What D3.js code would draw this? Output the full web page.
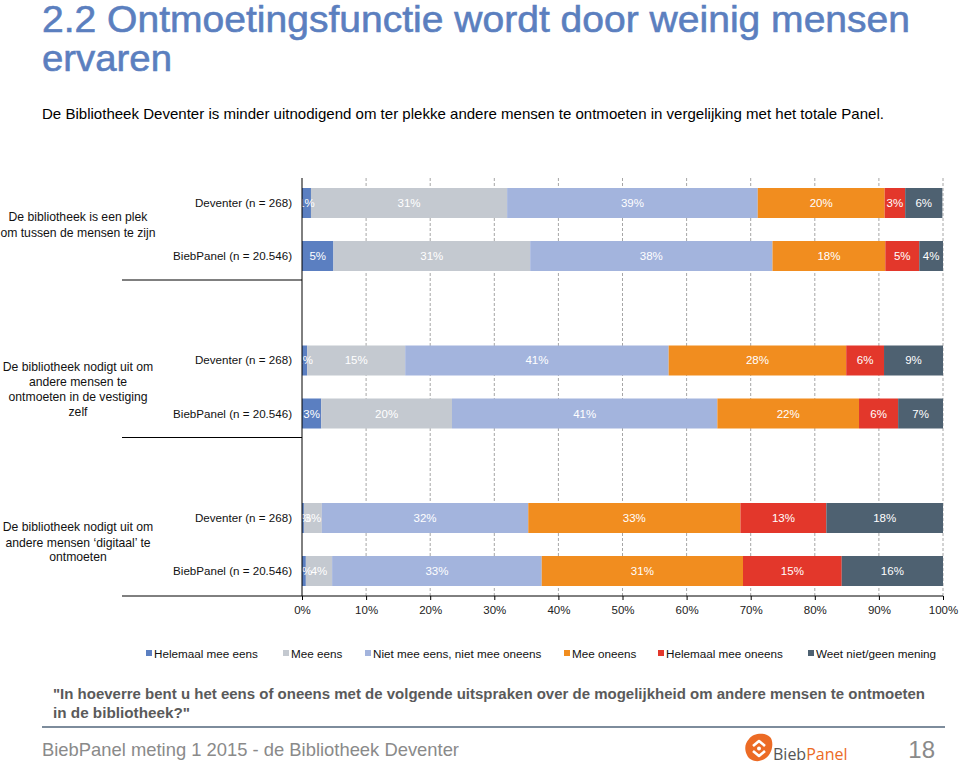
<!DOCTYPE html>
<html><head><meta charset="utf-8">
<script src="https://cdn.jsdelivr.net/npm/d3@7"></script>
<style>
html,body{margin:0;padding:0;background:#fff;}
svg{display:block;font-family:"Liberation Sans",Arial,sans-serif;}
</style></head>
<body>
<svg id="chart" width="960" height="764"></svg>
<script>
// ---------- DATA ----------
const categories = ["cat1", "cat2", "cat3"];
const categoryLines = [
  ["De bibliotheek is een plek", "om tussen de mensen te zijn"],
  ["De bibliotheek nodigt uit om", "andere mensen te", "ontmoeten in de vestiging", "zelf"],
  ["De bibliotheek nodigt uit om", "andere mensen \u2018digitaal\u2019 te", "ontmoeten"]
];
const rows = ["Deventer (n = 268)", "BiebPanel (n = 20.546)"];
const seriesNames = ["Helemaal mee eens", "Mee eens", "Niet mee eens, niet mee oneens", "Mee oneens", "Helemaal mee oneens", "Weet niet/geen mening"];
const seriesColors = ["#5b7fc1", "#c4c9d0", "#a3b4dd", "#f18d1f", "#e3372b", "#4e6171"];
// values in order: cat1 Deventer, cat1 BiebPanel, cat2 Deventer, cat2 BiebPanel, cat3 Deventer, cat3 BiebPanel
const helemaalMeeEens   = [1.4, 4.9, 0.8, 3.0, 0.3, 0.6];
const meeEens           = [30.6, 30.7, 15.3, 20.4, 2.8, 4.1];
const nietMeeEens       = [39.1, 37.8, 41.1, 41.4, 32.2, 32.7];
const meeOneens         = [19.8, 17.6, 27.7, 22.1, 33.1, 31.4];
const helemaalMeeOneens = [3.2, 5.3, 5.9, 6.1, 13.4, 15.4];
const weetNiet          = [5.8, 3.7, 9.2, 7.0, 18.2, 15.8];
const xTicks = [0, 10, 20, 30, 40, 50, 60, 70, 80, 90, 100];

const seriesValues = [helemaalMeeEens, meeEens, nietMeeEens, meeOneens, helemaalMeeOneens, weetNiet];

// ---------- CHART ----------
const svg = d3.select("#chart");

// Title
svg.append("text").attr("x", 42).attr("y", 32).attr("font-size", 37).attr("fill", "#5b7fbf")
  .attr("stroke", "#5b7fbf").attr("stroke-width", 0.6)
  .attr("textLength", 868).attr("lengthAdjust", "spacingAndGlyphs")
  .text("2.2 Ontmoetingsfunctie wordt door weinig mensen");
svg.append("text").attr("x", 42).attr("y", 71).attr("font-size", 37).attr("fill", "#5b7fbf")
  .attr("stroke", "#5b7fbf").attr("stroke-width", 0.6)
  .attr("textLength", 130).attr("lengthAdjust", "spacingAndGlyphs")
  .text("ervaren");
svg.append("text").attr("x", 42).attr("y", 119).attr("font-size", 14.5).attr("fill", "#000")
  .attr("textLength", 842).attr("lengthAdjust", "spacingAndGlyphs")
  .text("De Bibliotheek Deventer is minder uitnodigend om ter plekke andere mensen te ontmoeten  in vergelijking met het totale Panel.");

// Scales
const x = d3.scaleLinear().domain([0, 100]).range([302, 943]);
const yGroup = d3.scaleBand().domain(categories).range([122.5, 595]).padding(0);
const yRow = d3.scaleBand().domain(rows).range([65.5, 148.5]).paddingInner(0.434).paddingOuter(0);

const plotTop = 178, plotBottom = 596;

// Grid lines
svg.append("g").selectAll("line").data(xTicks.slice(1)).join("line")
  .attr("x1", d => x(d)).attr("x2", d => x(d))
  .attr("y1", plotTop).attr("y2", plotBottom)
  .attr("stroke", "#a6a6a6").attr("stroke-width", 1).attr("stroke-dasharray", "3,2");

// Build stacked records
const records = [];
categories.forEach((c, ci) => {
  rows.forEach((r, ri) => {
    const idx = ci * 2 + ri;
    let acc = 0;
    seriesValues.forEach((arr, si) => {
      const v = arr[idx];
      records.push({cat: c, row: r, s: si, x0: acc, x1: acc + v, v});
      acc += v;
    });
  });
});

const bars = svg.append("g");
bars.selectAll("rect").data(records).join("rect")
  .attr("x", d => x(d.x0))
  .attr("width", d => x(d.x1) - x(d.x0))
  .attr("y", d => yGroup(d.cat) + yRow(d.row))
  .attr("height", yRow.bandwidth())
  .attr("fill", d => seriesColors[d.s]);

bars.selectAll("text").data(records).join("text")
  .attr("x", d => (x(d.x0) + x(d.x1)) / 2)
  .attr("y", d => yGroup(d.cat) + yRow(d.row) + yRow.bandwidth() / 2 + 4)
  .attr("text-anchor", "middle").attr("font-size", 11.5).attr("fill", "#fff")
  .text(d => Math.round(d.v) + "%");

// Vertical axis line
svg.append("line").attr("x1", 302).attr("x2", 302).attr("y1", plotTop).attr("y2", plotBottom)
  .attr("stroke", "#000").attr("stroke-width", 1);

// Group separators
svg.append("g").selectAll("line").data(categories.slice(1)).join("line")
  .attr("x1", 122).attr("x2", 302)
  .attr("y1", d => yGroup(d)).attr("y2", d => yGroup(d))
  .attr("stroke", "#000").attr("stroke-width", 1);

// Bottom axis
const xAxis = d3.axisBottom(x).tickValues(xTicks).tickFormat(d => d + "%").tickSize(4).tickPadding(6);
const ax = svg.append("g").attr("transform", `translate(0,${plotBottom})`).call(xAxis);
ax.select(".domain").remove();
ax.selectAll(".tick line").attr("stroke", "#000");
ax.selectAll(".tick text").attr("font-size", 11.5).attr("fill", "#222").attr("font-family", "Liberation Sans, Arial, sans-serif");
svg.append("line").attr("x1", 122).attr("x2", 943).attr("y1", plotBottom).attr("y2", plotBottom)
  .attr("stroke", "#000").attr("stroke-width", 1);

// Row labels
const rowLab = svg.append("g");
categories.forEach(c => {
  rows.forEach(r => {
    rowLab.append("text").attr("x", 292)
      .attr("y", yGroup(c) + yRow(r) + yRow.bandwidth() / 2 + 4)
      .attr("text-anchor", "end").attr("font-size", 11.6).attr("fill", "#111").text(r);
  });
});

// Category labels
const catLabelY = [
  [221, 237],
  [371, 386, 401, 416],
  [531, 547, 561]
];
categories.forEach((c, ci) => {
  categoryLines[ci].forEach((line, li) => {
    svg.append("text").attr("x", 78).attr("y", catLabelY[ci][li])
      .attr("text-anchor", "middle").attr("font-size", 12.2).attr("fill", "#111").text(line);
  });
});

// Legend
const legendX = [146, 283, 365, 564, 658, 808];
const leg = svg.append("g");
seriesNames.forEach((n, i) => {
  leg.append("rect").attr("x", legendX[i]).attr("y", 650).attr("width", 6).attr("height", 6).attr("fill", seriesColors[i]);
  leg.append("text").attr("x", legendX[i] + 8).attr("y", 658).attr("font-size", 11.7).attr("fill", "#111").text(n);
});

// Question
svg.append("text").attr("x", 53).attr("y", 699).attr("font-size", 14.5).attr("font-weight", "bold").attr("fill", "#5a5a5a")
  .attr("textLength", 872).attr("lengthAdjust", "spacingAndGlyphs")
  .text("\"In hoeverre bent u het eens of oneens met de volgende uitspraken over de mogelijkheid om andere mensen te ontmoeten");
svg.append("text").attr("x", 53).attr("y", 718).attr("font-size", 14.5).attr("font-weight", "bold").attr("fill", "#5a5a5a")
  .attr("textLength", 137).attr("lengthAdjust", "spacingAndGlyphs")
  .text("in de bibliotheek?\"");

// Footer line
svg.append("line").attr("x1", 42).attr("x2", 945).attr("y1", 727).attr("y2", 727)
  .attr("stroke", "#7d8c9c").attr("stroke-width", 2);

svg.append("text").attr("x", 42).attr("y", 756).attr("font-size", 19).attr("fill", "#8a8a8a")
  .attr("textLength", 417).attr("lengthAdjust", "spacingAndGlyphs")
  .text("BiebPanel meting 1 2015 - de Bibliotheek Deventer");
svg.append("text").attr("x", 935).attr("y", 758).attr("text-anchor", "end").attr("font-size", 24).attr("fill", "#8a8a8a")
  .text("18");

// Logo
const logo = svg.append("g").attr("transform", "translate(745,733)");
logo.append("path")
  .attr("d", "M4,6 C8,0 20,-1 25,4 C29,8 28,20 21,25 C15,30 5,29 2,22 C-1,16 0,10 4,6 Z")
  .attr("fill", "#ec6b25");
logo.append("path").attr("d", "M8,13 L14,8 L20,13").attr("fill", "none").attr("stroke", "#fff").attr("stroke-width", 2.6).attr("stroke-linejoin", "round");
logo.append("path").attr("d", "M8,18 L14,23 L20,18").attr("fill", "none").attr("stroke", "#fff").attr("stroke-width", 2.6).attr("stroke-linejoin", "round");
logo.append("circle").attr("cx", 14).attr("cy", 15.5).attr("r", 2).attr("fill", "#fff");
const lt = svg.append("text").attr("x", 773).attr("y", 760).attr("font-size", 16).attr("font-family", "Open Sans, Liberation Sans, sans-serif");
lt.append("tspan").attr("fill", "#555").text("Bieb");
lt.append("tspan").attr("fill", "#ec6b25").text("Panel");
</script>
</body></html>
